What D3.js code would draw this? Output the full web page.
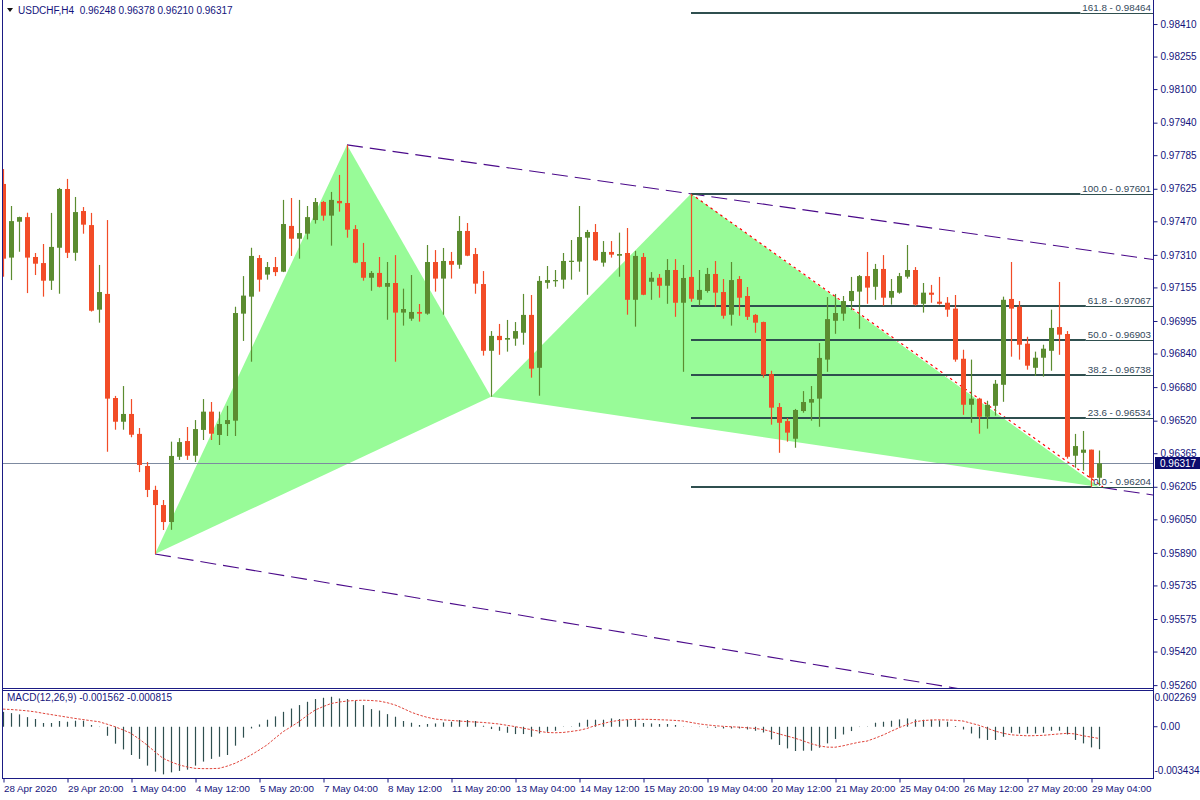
<!DOCTYPE html>
<html><head><meta charset="utf-8">
<script src="https://cdnjs.cloudflare.com/ajax/libs/d3/7.8.5/d3.min.js"></script>
<style>
body{margin:0;background:#fff;overflow:hidden;}
text{font-family:"Liberation Sans",Arial,sans-serif;}
</style>
</head><body>
<svg id="c" width="1200" height="800"></svg>
<script>
// ---------------- DATA ----------------
const symbolTitle = "USDCHF,H4  0.96248 0.96378 0.96210 0.96317";
const macdTitle = "MACD(12,26,9) -0.001562 -0.000815";

const opens = [0.97648,0.97297,0.97468,0.97490,0.97300,0.97271,0.97187,0.97344,0.97624,0.97320,
0.97519,0.97452,0.97049,0.97124,0.96628,0.96515,0.96552,0.96457,0.96304,0.96190,
0.96118,0.96037,0.96348,0.96423,0.96353,0.96476,0.96563,0.96452,0.96504,0.96520,
0.97030,0.97111,0.97295,0.97216,0.97252,0.97230,0.97448,0.97387,0.97411,0.97476,
0.97562,0.97497,0.97567,0.97557,0.97433,0.97276,0.97201,0.97224,0.97158,0.97176,
0.97035,0.97006,0.97038,0.97030,0.97276,0.97197,0.97281,0.97263,0.97424,0.97314,
0.97171,0.96853,0.96924,0.96906,0.96911,0.96939,0.97024,0.96772,0.97177,0.97187,
0.97192,0.97278,0.97278,0.97392,0.97419,0.97273,0.97324,0.97306,0.97319,0.97096,
0.97300,0.97182,0.97201,0.97163,0.97238,0.97082,0.97205,0.97096,0.97138,0.97219,
0.97133,0.97025,0.97195,0.97114,0.97024,0.96990,0.96742,0.96585,0.96518,0.96434,
0.96566,0.96606,0.96625,0.96811,0.96996,0.97030,0.97090,0.97135,0.97209,0.97158,
0.97243,0.97106,0.97130,0.97206,0.97238,0.97077,0.97130,0.97087,0.97082,0.97054,
0.96815,0.96596,0.96625,0.96539,0.96591,0.96691,0.97100,0.97063,0.96887,0.96772,
0.96820,0.96853,0.96966,0.96933,0.96353,0.96367,0.96382,0.96248];
const highs = [0.97719,0.97543,0.97492,0.97511,0.97319,0.97362,0.97510,0.97629,0.97672,0.97586,
0.97538,0.97510,0.97262,0.97476,0.96638,0.96685,0.96623,0.96485,0.96323,0.96210,
0.96142,0.96420,0.96437,0.96490,0.96523,0.96623,0.96609,0.96563,0.96591,0.97063,
0.97209,0.97344,0.97309,0.97276,0.97300,0.97572,0.97581,0.97572,0.97543,0.97581,
0.97567,0.97610,0.97691,0.97834,0.97452,0.97367,0.97233,0.97300,0.97276,0.97309,
0.97149,0.97214,0.97076,0.97357,0.97333,0.97343,0.97324,0.97495,0.97462,0.97343,
0.97233,0.96947,0.96981,0.97000,0.96990,0.97124,0.97119,0.97209,0.97257,0.97238,
0.97319,0.97381,0.97543,0.97429,0.97457,0.97376,0.97376,0.97416,0.97438,0.97329,
0.97319,0.97228,0.97219,0.97290,0.97290,0.97262,0.97601,0.97238,0.97248,0.97281,
0.97195,0.97276,0.97209,0.97157,0.97028,0.96992,0.96758,0.96604,0.96533,0.96576,
0.96661,0.96685,0.96890,0.97109,0.97124,0.97114,0.97205,0.97214,0.97324,0.97267,
0.97309,0.97195,0.97224,0.97357,0.97252,0.97176,0.97167,0.97205,0.97109,0.97119,
0.96858,0.96811,0.96629,0.96615,0.96714,0.97111,0.97276,0.97090,0.96920,0.96849,
0.96882,0.97049,0.97181,0.96947,0.96457,0.96471,0.96382,0.96378];
const lows = [0.97206,0.97190,0.97325,0.97128,0.97214,0.97111,0.97143,0.97125,0.97295,0.97282,
0.97411,0.97040,0.96987,0.96372,0.96477,0.96477,0.96441,0.96275,0.96156,0.95885,
0.95999,0.96000,0.96333,0.96333,0.96323,0.96428,0.96428,0.96404,0.96447,0.96447,
0.96900,0.96801,0.97135,0.97192,0.97209,0.97228,0.97305,0.97292,0.97384,0.97459,
0.97473,0.97354,0.97516,0.97392,0.97270,0.97187,0.97139,0.97155,0.97001,0.96801,
0.96973,0.96996,0.96992,0.97025,0.97135,0.97025,0.97197,0.97244,0.97304,0.97125,
0.96830,0.96634,0.96834,0.96849,0.96877,0.96882,0.96725,0.96639,0.97149,0.97158,
0.97149,0.97192,0.97230,0.97120,0.97281,0.97254,0.97297,0.97206,0.97025,0.96968,
0.97118,0.97096,0.97106,0.97077,0.97015,0.96753,0.97087,0.97068,0.97130,0.97063,
0.97006,0.96973,0.97020,0.97000,0.96939,0.96725,0.96501,0.96367,0.96420,0.96391,
0.96558,0.96520,0.96491,0.96753,0.96934,0.96996,0.97047,0.96958,0.97077,0.97096,
0.97068,0.97073,0.97125,0.97197,0.97068,0.97035,0.97082,0.97073,0.97015,0.96801,
0.96548,0.96510,0.96458,0.96482,0.96544,0.96610,0.96825,0.96811,0.96763,0.96734,
0.96730,0.96758,0.96834,0.96339,0.96296,0.96282,0.96204,0.96210];
const closes = [0.97292,0.97471,0.97490,0.97297,0.97268,0.97187,0.97348,0.97624,0.97320,0.97514,
0.97454,0.97044,0.97133,0.96625,0.96515,0.96552,0.96453,0.96309,0.96190,0.96118,
0.96037,0.96352,0.96418,0.96353,0.96480,0.96563,0.96458,0.96504,0.96523,0.97033,
0.97116,0.97305,0.97192,0.97252,0.97228,0.97457,0.97387,0.97414,0.97490,0.97562,
0.97497,0.97572,0.97556,0.97430,0.97273,0.97201,0.97224,0.97158,0.97176,0.97035,
0.97052,0.97038,0.97030,0.97276,0.97197,0.97281,0.97263,0.97424,0.97306,0.97173,
0.96853,0.96924,0.96904,0.96914,0.96947,0.97024,0.96768,0.97186,0.97190,0.97190,
0.97281,0.97282,0.97395,0.97419,0.97284,0.97324,0.97311,0.97314,0.97096,0.97305,
0.97120,0.97201,0.97163,0.97238,0.97082,0.97200,0.97101,0.97143,0.97219,0.97130,
0.97020,0.97190,0.97106,0.97015,0.96987,0.96739,0.96582,0.96510,0.96463,0.96571,
0.96609,0.96623,0.96819,0.97004,0.97033,0.97090,0.97138,0.97209,0.97154,0.97243,
0.97106,0.97138,0.97209,0.97238,0.97073,0.97130,0.97120,0.97077,0.97049,0.96811,
0.96596,0.96625,0.96539,0.96596,0.96696,0.97096,0.97054,0.96882,0.96782,0.96820,
0.96863,0.96962,0.96930,0.96348,0.96399,0.96382,0.96248,0.96317];

const macdHist = [0.00104,0.00095,0.00086,0.00067,0.00054,0.00026,0.00026,0.00040,0.00035,0.00042,
0.00042,0.00012,-0.00002,-0.00063,-0.00118,-0.00158,-0.00197,-0.00224,-0.00271,-0.00313,
-0.00332,-0.00318,-0.00308,-0.00299,-0.00271,-0.00243,-0.00224,-0.00209,-0.00197,-0.00132,
-0.00076,-0.00012,0.00016,0.00049,0.00072,0.00104,0.00127,0.00151,0.00174,0.00193,
0.00202,0.00209,0.00197,0.00193,0.00179,0.00151,0.00123,0.00113,0.00088,0.00070,
0.00040,0.00028,0.00012,0.00019,0.00023,0.00030,0.00035,0.00047,0.00047,0.00040,
0.00007,-0.00016,-0.00028,-0.00042,-0.00051,-0.00051,-0.00070,-0.00047,-0.00035,-0.00028,
0.00002,0.00002,0.00028,0.00049,0.00049,0.00049,0.00058,0.00054,0.00047,0.00044,
0.00026,0.00023,0.00019,0.00019,0.00012,0.00002,0.00001,-0.00002,-0.00005,-0.00007,
-0.00012,-0.00012,-0.00012,-0.00019,-0.00028,-0.00040,-0.00088,-0.00127,-0.00151,-0.00169,
-0.00167,-0.00167,-0.00146,-0.00116,-0.00085,-0.00054,-0.00030,-0.00002,0.00002,0.00028,
0.00035,0.00042,0.00051,0.00058,0.00051,0.00049,0.00049,0.00044,0.00035,0.00005,
-0.00019,-0.00047,-0.00081,-0.00092,-0.00092,-0.00070,-0.00042,-0.00047,-0.00047,-0.00047,
-0.00042,-0.00028,-0.00028,-0.00054,-0.00092,-0.00116,-0.00144,-0.001562];
const macdSignal = [0.00123,0.00120,0.00116,0.00111,0.00104,0.00094,0.00085,0.00076,0.00067,0.00058,
0.00050,0.00042,0.00035,0.00018,0.00000,-0.00022,-0.00046,-0.00085,-0.00127,-0.00175,
-0.00220,-0.00245,-0.00266,-0.00280,-0.00290,-0.00292,-0.00292,-0.00290,-0.00275,-0.00255,
-0.00228,-0.00197,-0.00163,-0.00127,-0.00080,-0.00035,0.00000,0.00035,0.00078,0.00116,
0.00140,0.00162,0.00172,0.00179,0.00183,0.00185,0.00183,0.00179,0.00168,0.00152,
0.00128,0.00102,0.00082,0.00066,0.00054,0.00048,0.00044,0.00040,0.00036,0.00033,
0.00030,0.00025,0.00019,0.00010,0.00001,-0.00010,-0.00020,-0.00031,-0.00040,-0.00042,
-0.00040,-0.00033,-0.00025,-0.00012,0.00008,0.00022,0.00036,0.00044,0.00049,0.00051,
0.00052,0.00051,0.00049,0.00047,0.00044,0.00040,0.00030,0.00020,0.00013,0.00007,
0.00003,0.00000,-0.00003,-0.00007,-0.00012,-0.00019,-0.00033,-0.00050,-0.00065,-0.00080,
-0.00098,-0.00118,-0.00133,-0.00142,-0.00143,-0.00133,-0.00120,-0.00108,-0.00100,-0.00080,
-0.00058,-0.00032,-0.00007,0.00015,0.00035,0.00043,0.00047,0.00048,0.00047,0.00045,
0.00040,0.00025,0.00010,-0.00010,-0.00030,-0.00045,-0.00056,-0.00060,-0.00063,-0.00062,
-0.00060,-0.00055,-0.00050,-0.00046,-0.00050,-0.00063,-0.00072,-0.000815];

const priceTicks = ["0.98410","0.98255","0.98100","0.97940","0.97785","0.97625","0.97470","0.97310",
"0.97155","0.96995","0.96840","0.96680","0.96520","0.96365","0.96205","0.96050","0.95890",
"0.95735","0.95575","0.95420","0.95260"];
const macdTicks = ["0.002269","0.00","-0.003434"];
const timeTickIdx = [0,8,16,24,32,40,48,56,64,72,80,88,96,104,112,120,128,136];
const timeTickLabels = ["28 Apr 2020","29 Apr 20:00","1 May 04:00","4 May 12:00","5 May 20:00",
"7 May 04:00","8 May 12:00","11 May 20:00","13 May 04:00","14 May 12:00","15 May 20:00",
"19 May 04:00","20 May 12:00","21 May 20:00","25 May 04:00","26 May 12:00","27 May 20:00","29 May 04:00"];

const fibLevels = ["161.8","100.0","61.8","50.0","38.2","23.6","0.0"];
const fibPrices = [0.98464,0.97601,0.97067,0.96903,0.96738,0.96534,0.96204];
const fibStartIdx = 86;

// XABCD pattern points (bar index, price)
const patternIdx = [19,43,61,86,137];
const patternPrice = [0.95885,0.97834,0.96634,0.97601,0.96204];
// trend lines: [idx1, price1, idx2, price2]
const channelUpper = [43,0.97834,86,0.97601];
const channelLower = [19,0.95885,119,0.95246];
const rayBD = [61,0.96634,137,0.96204];
const dottedCD = [86,0.97601,137.5,0.96204];
const lastPrice = 0.96317;

// ---------------- LAYOUT ----------------
const svg = d3.select("#c");
const L = 2, R = 1153, mainTop = 0, mainBot = 688, macdTop = 690, macdBot = 778;
const navy = "#14147c", axisCol = "#1b1b84";
const bull = "#5b8c30", bear = "#f24c27";

const x = d3.scaleLinear().domain([0,137]).range([3,1099]);
const y = d3.scaleLinear().domain([0.96204,0.98464]).range([487,12.7]);
const ym = d3.scaleLinear().domain([-0.003434,0.002269]).range([776,694.2]);

svg.append("rect").attr("width",1200).attr("height",800).attr("fill","#fff");
const defs = svg.append("defs");
defs.append("clipPath").attr("id","mclip").append("rect")
  .attr("x",L).attr("y",mainTop).attr("width",R-L).attr("height",mainBot-mainTop);
defs.append("clipPath").attr("id","iclip").append("rect")
  .attr("x",L).attr("y",macdTop).attr("width",R-L).attr("height",macdBot-macdTop);

const main = svg.append("g").attr("clip-path","url(#mclip)");

// pattern triangles
const pts = patternIdx.map((d,i)=>[x(d), y(patternPrice[i])]);
const tri = [[pts[0],pts[1],pts[2]],[pts[2],pts[3],pts[4]]];
main.selectAll("path.tri").data(tri).enter().append("path")
  .attr("d", d => d3.line()(d) + "Z").attr("fill","#98fb98").attr("stroke","none");

function extLine(seg, xEnd){
  const x1=x(seg[0]), y1=y(seg[1]), x2=x(seg[2]), y2=y(seg[3]);
  const s=(y2-y1)/(x2-x1);
  return [x1,y1,xEnd,y1+(xEnd-x1)*s];
}
const purple = "#4b0a8a";
[extLine(channelUpper,R), extLine(channelLower,R)].forEach(l=>{
  main.append("line").attr("x1",l[0]).attr("y1",l[1]).attr("x2",l[2]).attr("y2",l[3])
   .attr("stroke",purple).attr("stroke-width",1.1).attr("stroke-dasharray","16,7");
});
{
  const l = extLine(rayBD,R);
  const xs = x(rayBD[2]), s=(l[3]-l[1])/(l[2]-l[0]);
  main.append("line").attr("x1",xs+2).attr("y1",l[1]+(xs+2-l[0])*s).attr("x2",R).attr("y2",l[3])
   .attr("stroke",purple).attr("stroke-width",1.1).attr("stroke-dasharray","16,7");
}
main.append("line").attr("x1",x(dottedCD[0])).attr("y1",y(dottedCD[1]))
  .attr("x2",x(dottedCD[2])).attr("y2",y(dottedCD[3]))
  .attr("stroke","#ff0000").attr("stroke-width",1.2).attr("stroke-dasharray","2.5,3.5");

// current price line
main.append("line").attr("x1",L).attr("x2",R).attr("y1",Math.round(y(lastPrice))+0.5).attr("y2",Math.round(y(lastPrice))+0.5)
  .attr("stroke","#7d8aa0").attr("stroke-width",1);

// fibonacci
const fibG = svg.append("g");
fibLevels.forEach((lv,i)=>{
  const yy = Math.round(y(fibPrices[i]));
  const t = fibG.append("text").attr("x",1151).attr("y",yy-2).attr("text-anchor","end")
    .attr("font-size","9.8px").attr("fill","#34495a").text(lv+" - "+fibPrices[i].toFixed(5));
  const w = t.node().getComputedTextLength();
  const xs = 1151 - w - 2;
  fibG.append("line").attr("x1",x(fibStartIdx)).attr("x2",xs).attr("y1",yy).attr("y2",yy)
    .attr("stroke","#2f4f4f").attr("stroke-width",2);
  fibG.append("line").attr("x1",xs).attr("x2",R).attr("y1",yy+0.5).attr("y2",yy+0.5)
    .attr("stroke","#2f4f4f").attr("stroke-width",1);
});

// candles
const cg = svg.append("g").attr("clip-path","url(#mclip)");
const idx = d3.range(opens.length);
cg.selectAll("line.w").data(idx).enter().append("line")
  .attr("x1",i=>Math.round(x(i))+0.5).attr("x2",i=>Math.round(x(i))+0.5)
  .attr("y1",i=>y(highs[i])).attr("y2",i=>y(lows[i]))
  .attr("stroke",i=>closes[i]>=opens[i]?bull:bear).attr("stroke-width",1.2);
cg.selectAll("rect.b").data(idx).enter().append("rect")
  .attr("x",i=>Math.round(x(i))-2).attr("width",5)
  .attr("y",i=>Math.min(y(opens[i]),y(closes[i])))
  .attr("height",i=>Math.max(1.2,Math.abs(y(opens[i])-y(closes[i]))))
  .attr("fill",i=>closes[i]>=opens[i]?bull:bear);

// MACD
const mg = svg.append("g").attr("clip-path","url(#iclip)");
mg.selectAll("line.h").data(idx).enter().append("line")
  .attr("x1",i=>Math.round(x(i))+0.5).attr("x2",i=>Math.round(x(i))+0.5)
  .attr("y1",ym(0)).attr("y2",i=>ym(macdHist[i]))
  .attr("stroke","#2f4f4f").attr("stroke-width",1.2);
mg.append("path").datum(idx)
  .attr("d",d3.line().x(i=>x(i)).y(i=>ym(macdSignal[i])))
  .attr("fill","none").attr("stroke","#e0463c").attr("stroke-width",1).attr("stroke-dasharray","2.5,1.5");

// frames
const fr = svg.append("g").attr("stroke",axisCol).attr("fill","none").attr("shape-rendering","crispEdges");
fr.append("line").attr("x1",L+0.5).attr("x2",L+0.5).attr("y1",0).attr("y2",macdBot);
fr.append("line").attr("x1",R+0.5).attr("x2",R+0.5).attr("y1",0).attr("y2",macdBot);
fr.append("line").attr("x1",L).attr("x2",R).attr("y1",mainBot+0.5).attr("y2",mainBot+0.5);
fr.append("line").attr("x1",L).attr("x2",R).attr("y1",macdTop+0.5).attr("y2",macdTop+0.5);
fr.append("line").attr("x1",L).attr("x2",R+1).attr("y1",macdBot+0.5).attr("y2",macdBot+0.5);

// price axis
const yAxis = d3.axisRight(y).tickValues(priceTicks.map(Number)).tickSize(4).tickPadding(3)
  .tickFormat((d,i)=>priceTicks[i]);
const ya = svg.append("g").attr("transform",`translate(${R+0.5},0)`).call(yAxis);
ya.select(".domain").remove();
ya.selectAll("line").attr("stroke",axisCol);
ya.selectAll("text").attr("fill",navy).attr("font-size","10px").attr("font-family","Liberation Sans, Arial, sans-serif");

// macd axis
const macdVals = macdTicks.map(Number);
const ma = svg.append("g").attr("transform",`translate(${R+0.5},0)`);
macdVals.forEach((v,i)=>{
  let yy = ym(v);
  if(i===1) ma.append("line").attr("x1",0).attr("x2",4).attr("y1",yy).attr("y2",yy).attr("stroke",axisCol);
  const ty = i===0 ? yy+3.5 : (i===2 ? yy-5 : yy);
  ma.append("text").attr("x",i===1?7:1).attr("y",ty).attr("dy","0.32em").attr("fill",navy)
    .attr("font-size","10px").text(macdTicks[i]);
});

// current price label
const py = Math.round(y(lastPrice));
svg.append("rect").attr("x",R+2).attr("y",py-6).attr("width",45).attr("height",12).attr("fill","#0c0c6e");
svg.append("text").attr("x",R+7).attr("y",py).attr("dy","0.35em").attr("fill","#fff").attr("font-size","10px").text(lastPrice.toFixed(5));

// time axis
const xAxis = d3.axisBottom(x).tickValues(timeTickIdx).tickSize(4).tickFormat((d,i)=>timeTickLabels[i]);
const xa = svg.append("g").attr("transform",`translate(0.5,${macdBot+0.5})`).call(xAxis);
xa.select(".domain").remove();
xa.selectAll("line").attr("stroke",axisCol);
xa.selectAll("text").attr("fill",navy).attr("font-size","9.8px").attr("text-anchor","start")
  .attr("x",0).attr("y",7).attr("font-family","Liberation Sans, Arial, sans-serif");

// titles
svg.append("path").attr("d","M7,8 L13,8 L10,12 Z").attr("fill","#111");
svg.append("text").attr("x",18).attr("y",14).attr("font-size","10px").attr("fill",navy)
  .attr("xml:space","preserve").style("white-space","pre").text(symbolTitle);
svg.append("text").attr("x",7).attr("y",701).attr("font-size","10px").attr("fill",navy).text(macdTitle);
</script>
</body></html>
